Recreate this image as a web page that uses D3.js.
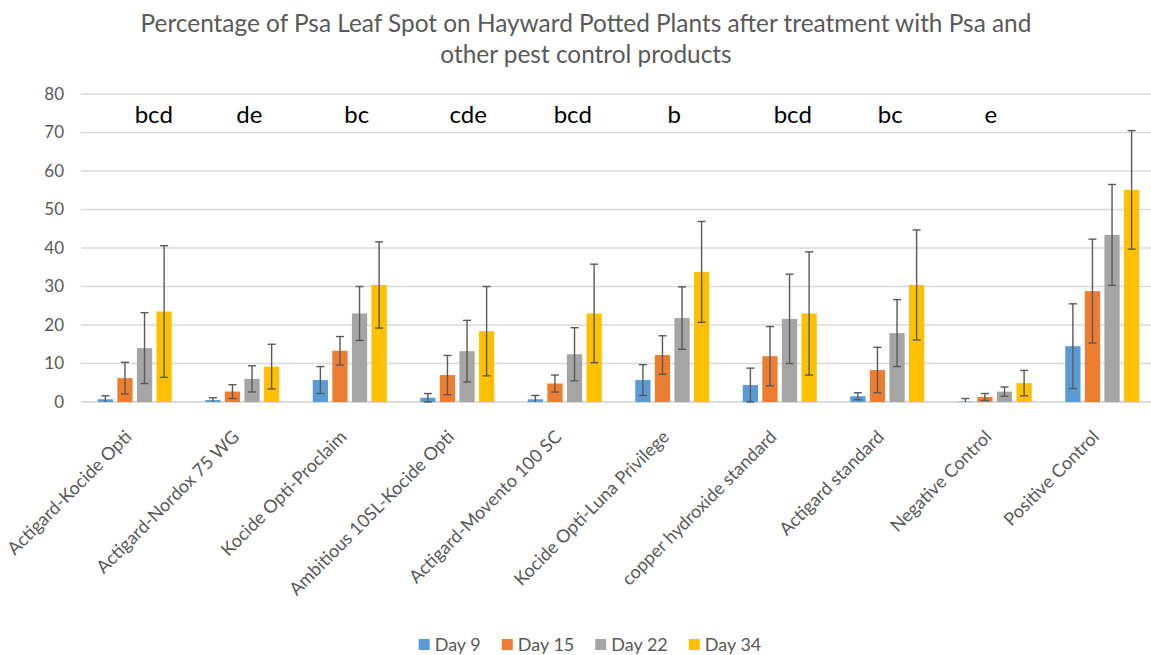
<!DOCTYPE html>
<html>
<head>
<meta charset="utf-8">
<script src="https://cdn.jsdelivr.net/npm/d3@7"></script>
<style>
  html, body { margin: 0; padding: 0; background: #fff; }
  svg { display: block; }
  text { font-family: Lato, "Open Sans", "Liberation Sans", sans-serif; }
</style>
</head>
<body>
<svg id="chart" width="1151" height="655"></svg>
<script>
// ---------------- DATA ----------------
const categories = [
  "Actigard-Kocide Opti", "Actigard-Nordox 75 WG", "Kocide Opti-Proclaim",
  "Ambitious 10SL-Kocide Opti", "Actigard-Movento 100 SC", "Kocide Opti-Luna Privilege",
  "copper hydroxide standard", "Actigard standard", "Negative Control", "Positive Control"
];
const seriesNames = ["Day 9", "Day 15", "Day 22", "Day 34"];
const day9  = [0.7, 0.5, 5.7, 1.1, 0.7, 5.7, 4.4, 1.5, 0.1, 14.5];
const day15 = [6.2, 2.7, 13.3, 7.0, 4.8, 12.2, 11.9, 8.3, 1.3, 28.8];
const day22 = [14.0, 6.0, 23.0, 13.2, 12.4, 21.8, 21.6, 17.9, 2.7, 43.4];
const day34 = [23.5, 9.2, 30.4, 18.4, 23.0, 33.8, 23.0, 30.4, 4.9, 55.1];
const err9  = [0.9, 0.6, 3.5, 1.1, 1.0, 4.0, 4.4, 0.9, 0.8, 11.0];
const err15 = [4.1, 1.8, 3.7, 5.1, 2.2, 5.0, 7.7, 5.9, 0.9, 13.5];
const err22 = [9.2, 3.4, 7.0, 8.0, 6.9, 8.1, 11.6, 8.7, 1.2, 13.1];
const err34 = [17.1, 5.8, 11.2, 11.6, 12.8, 13.1, 16.0, 14.3, 3.3, 15.4];
const groupLetters = ["bcd", "de", "bc", "cde", "bcd", "b", "bcd", "bc", "e", ""];
const yTicks = [0, 10, 20, 30, 40, 50, 60, 70, 80];
const titleLines = [
  "Percentage of Psa Leaf Spot on Hayward Potted Plants after treatment with Psa and",
  "other pest control products"
];

// ---------------- LAYOUT ----------------
const colors = ["#5b9bd5", "#ed7d31", "#a5a5a5", "#ffc000"];
const values = [day9, day15, day22, day34];
const errors = [err9, err15, err22, err34];
// small horizontal nudges (px) reproducing the reference's hand-placed letter boxes
const letterNudge = [19, 7, 7, 11, 8, 2, 13, 3, -4, 0];

const plot = { left: 81, right: 1156, top: 94, bottom: 402 };
const svg = d3.select("#chart");

const x0 = d3.scaleBand().domain(categories).range([plot.left, plot.right]).padding(0);
const step = x0.bandwidth();
const groupW = 74;
const x1 = d3.scaleBand().domain(seriesNames)
  .range([(step - groupW) / 2, (step + groupW) / 2]).paddingInner(0.22).paddingOuter(0);
const y = d3.scaleLinear().domain([0, 80]).range([plot.bottom, plot.top]);

// gridlines
svg.append("g").selectAll("line").data(yTicks).join("line")
  .attr("x1", plot.left).attr("x2", 1151)
  .attr("y1", d => y(d)).attr("y2", d => y(d))
  .attr("stroke", d => d === 0 ? "#d0d0d0" : "#d9d9d9")
  .attr("stroke-width", d => d === 0 ? 1.6 : 1.3);

// y axis labels
const yAxis = d3.axisLeft(y).tickValues(yTicks).tickSize(0).tickPadding(0);
const gy = svg.append("g").attr("transform", "translate(64,0)").call(yAxis);
gy.select(".domain").remove();
gy.selectAll("text")
  .attr("fill", "#595959").attr("font-size", 17)
  .style("font-family", "Lato, 'Open Sans', sans-serif");

// bars
const rows = [];
categories.forEach((c, i) => {
  seriesNames.forEach((s, j) => {
    rows.push({ cat: c, s, v: values[j][i], e: errors[j][i], color: colors[j] });
  });
});

const barsG = svg.append("g");
barsG.selectAll("rect").data(rows).join("rect")
  .attr("x", d => x0(d.cat) + x1(d.s))
  .attr("width", x1.bandwidth())
  .attr("y", d => y(d.v))
  .attr("height", d => y(0) - y(d.v))
  .attr("fill", d => d.color);

// error bars
const errG = svg.append("g").attr("stroke", "#595959").attr("stroke-width", 1.4);
const cap = 4;
rows.forEach(d => {
  const cx = x0(d.cat) + x1(d.s) + x1.bandwidth() / 2;
  const hi = y(d.v + d.e);
  const lo = Math.min(y(d.v - d.e), y(0));
  errG.append("line").attr("x1", cx).attr("x2", cx).attr("y1", hi).attr("y2", lo);
  errG.append("line").attr("x1", cx - cap).attr("x2", cx + cap).attr("y1", hi).attr("y2", hi);
  if (d.v - d.e >= 0) {
    errG.append("line").attr("x1", cx - cap).attr("x2", cx + cap).attr("y1", lo).attr("y2", lo);
  }
});

// significance letters
svg.append("g").selectAll("text").data(categories).join("text")
  .attr("x", (c, i) => x0(c) + step / 2 + letterNudge[i])
  .attr("y", 123)
  .attr("text-anchor", "middle")
  .attr("font-size", 24)
  .attr("fill", "#000")
  .text((c, i) => groupLetters[i]);

// x labels (rotated)
svg.append("g").selectAll("text").data(categories).join("text")
  .attr("transform", c => `translate(${x0(c) + step / 2 - 2},438) rotate(-45)`)
  .attr("text-anchor", "end")
  .attr("font-size", 18)
  .attr("fill", "#595959")
  .text(c => c);

// title
svg.append("g").selectAll("text").data(titleLines).join("text")
  .attr("x", 586)
  .attr("y", (d, i) => 32 + i * 31)
  .attr("text-anchor", "middle")
  .attr("font-size", 24.4)
  .attr("fill", "#595959")
  .text(d => d);

// legend
const legend = svg.append("g");
const items = legend.selectAll("g").data(seriesNames).join("g");
items.append("rect").attr("width", 11).attr("height", 11).attr("y", 639)
  .attr("fill", (d, i) => colors[i]);
items.append("text").attr("x", 16).attr("y", 651)
  .attr("font-size", 18).attr("fill", "#595959").text(d => d);
let widths = [];
items.each(function () { widths.push(16 + this.querySelector("text").getComputedTextLength()); });
const gap = 21;
const total = d3.sum(widths) + gap * (widths.length - 1);
let cx0 = 590 - total / 2;
items.attr("transform", (d, i) => {
  const t = `translate(${cx0},0)`;
  cx0 += widths[i] + gap;
  return t;
});
</script>
</body>
</html>
